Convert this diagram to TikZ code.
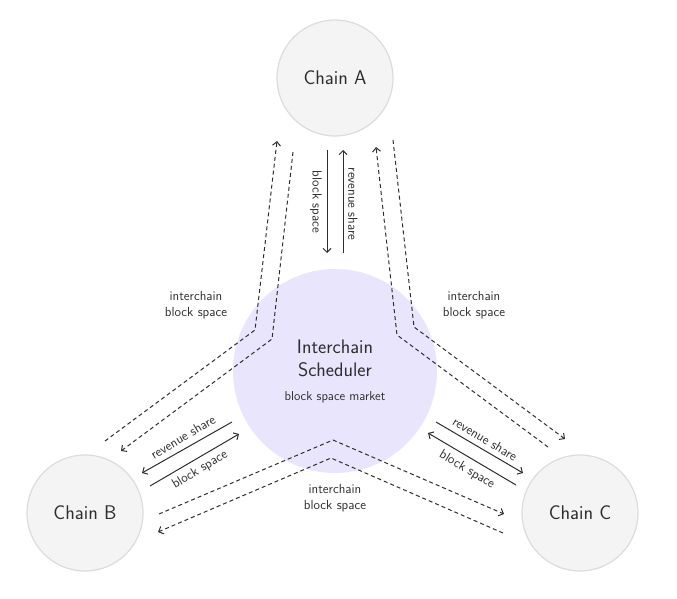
\documentclass[tikz,border=0pt]{standalone}
\usepackage{tikz}
\usetikzlibrary{positioning,arrows.meta,calc}
\definecolor{chainfill}{HTML}{F4F4F4}
\definecolor{chainedge}{HTML}{DCDCDC}
\definecolor{lavender}{HTML}{E8E5FC}
\definecolor{ink}{HTML}{2E2E2E}

\begin{document}
\begin{tikzpicture}[x=1pt, y=-1pt, line width=1pt,
  chain/.style={circle, draw=chainedge, fill=chainfill, line width=1.2pt, minimum size=116pt, inner sep=0pt, text=ink, font=\sffamily\fontsize{19.8}{23}\selectfont},
  hub/.style={circle, fill=lavender, minimum size=204pt, inner sep=0pt, text=ink, align=center, font=\sffamily\fontsize{19.6}{23.5}\selectfont},
  tag/.style={text=ink, align=center, inner sep=1pt, font=\sffamily\fontsize{13.2}{15.5}\selectfont},
  flow/.style={draw=ink, -{Straight Barb[length=4pt, width=8pt]}},
  relay/.style={flow, dash pattern=on 4pt off 3pt}]
  \useasboundingbox (0,0) rectangle (677,599);

  % chains and the scheduler
  \node[chain] (chainA) at (335,78) {Chain A};
  \node[chain] (chainB) at (85,513) {Chain B};
  \node[chain] (chainC) at (580,513) {Chain C};
  \node[hub] (sched) at (335,371) {Interchain\\Scheduler\\[0pt]{\fontsize{12.9}{15}\selectfont block space market}};

  % end points of the flows
  \coordinate (aBlk0) at (327,150); \coordinate (aBlk1) at (327,253);
  \coordinate (aRev0) at (343,253); \coordinate (aRev1) at (343,150);
  \coordinate (bRev0) at (232,422); \coordinate (bRev1) at (142,473);
  \coordinate (bBlk0) at (150,486); \coordinate (bBlk1) at (239,434);
  \coordinate (cRev0) at (436,422); \coordinate (cRev1) at (523,473);
  \coordinate (cBlk0) at (516,485); \coordinate (cBlk1) at (428,433);

  % interchain routes, B side
  \coordinate (ba0) at (105,441); \coordinate (ba1) at (255,330); \coordinate (ba2) at (277,141);
  \coordinate (ab0) at (293,152); \coordinate (ab1) at (272,339); \coordinate (ab2) at (121,451);
  % interchain routes, C side
  \coordinate (ca0) at (548,447); \coordinate (ca1) at (397,335); \coordinate (ca2) at (376,147);
  \coordinate (ac0) at (393,140); \coordinate (ac1) at (414,327); \coordinate (ac2) at (565,439);
  % interchain routes, bottom
  \coordinate (bc0) at (159,514); \coordinate (bc1) at (333,440); \coordinate (bc2) at (504,514);
  \coordinate (cb0) at (503,533); \coordinate (cb1) at (331,458); \coordinate (cb2) at (158,532);

  % solid flows
  \draw[flow] (aBlk0) -- (aBlk1);
  \draw[flow] (aRev0) -- (aRev1);
  \draw[flow] (bRev0) -- (bRev1);
  \draw[flow] (bBlk0) -- (bBlk1);
  \draw[flow] (cRev0) -- (cRev1);
  \draw[flow] (cBlk0) -- (cBlk1);

  % dashed flows
  \draw[relay] (ba0) -- (ba1) -- (ba2);
  \draw[relay] (ab0) -- (ab1) -- (ab2);
  \draw[relay] (ca0) -- (ca1) -- (ca2);
  \draw[relay] (ac0) -- (ac1) -- (ac2);
  \draw[relay] (bc0) -- (bc1) -- (bc2);
  \draw[relay] (cb0) -- (cb1) -- (cb2);

  % labels
  \node[tag, rotate=-90] (lblAblk) at (316,202) {block space};
  \node[tag, rotate=-90] (lblArev) at (353,204) {revenue share};
  \node[tag, rotate=31] (lblBrev) at (183,437) {revenue share};
  \node[tag, rotate=31] (lblBblk) at (200,470) {block space};
  \node[tag, rotate=-31] (lblCrev) at (485,439) {revenue share};
  \node[tag, rotate=-31] (lblCblk) at (467,470) {block space};
  \node[tag] (lblAB) at (196,305) {interchain\\block space};
  \node[tag] (lblAC) at (474,305) {interchain\\block space};
  \node[tag] (lblBC) at (335,498) {interchain\\block space};
\end{tikzpicture}
\end{document}
